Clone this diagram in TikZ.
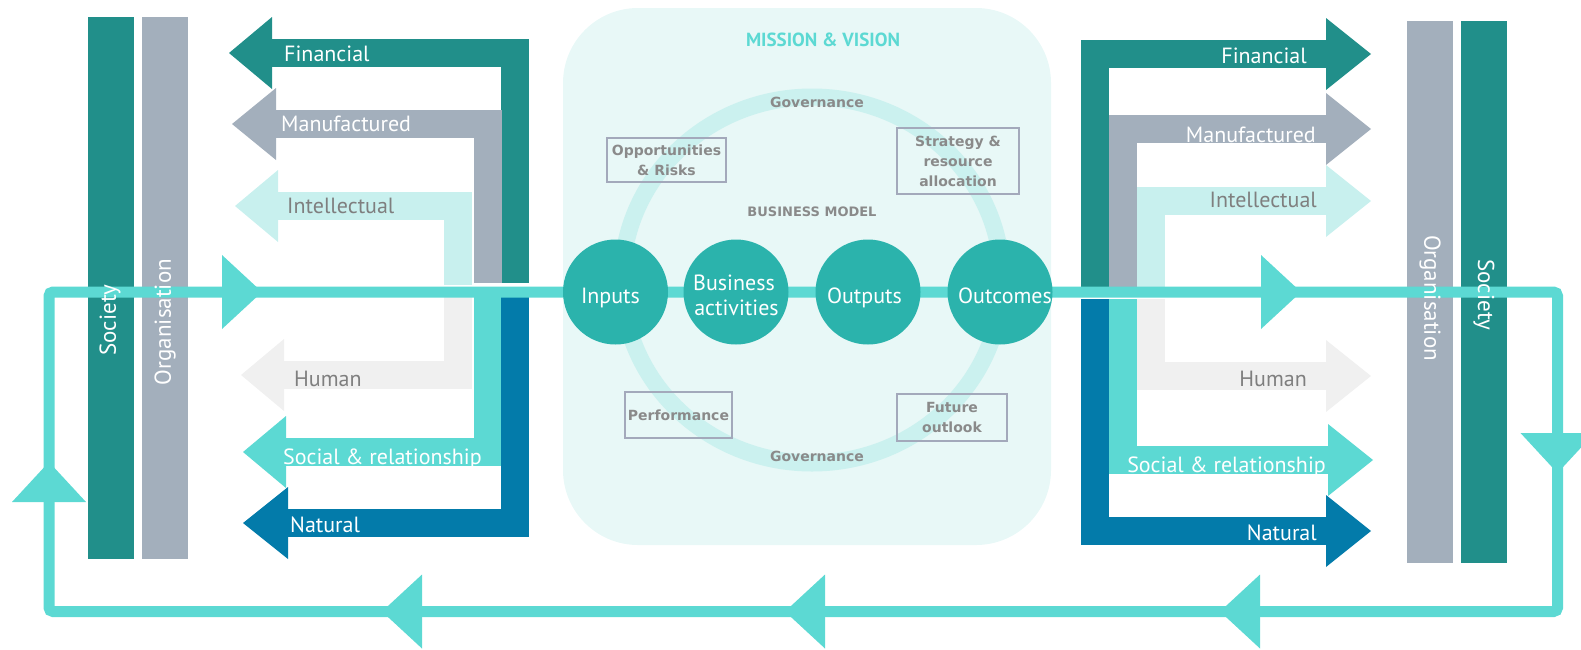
\documentclass[tikz,border=0pt]{standalone}
\usepackage{fontspec}
\setmainfont{PT Sans}
\newfontfamily\smallfont{DejaVu Sans}
\usetikzlibrary{backgrounds}
\definecolor{finc}{HTML}{218F8A}
\definecolor{manc}{HTML}{A3AFBC}
\definecolor{intc}{HTML}{C8F0EE}
\definecolor{humc}{HTML}{F0F0F0}
\definecolor{flowc}{HTML}{5CD9D3}
\definecolor{natc}{HTML}{037BAA}
\definecolor{stagec}{HTML}{2BB3AC}
\definecolor{panelc}{HTML}{E8F8F7}
\definecolor{ringc}{HTML}{CBF1EF}
\definecolor{smallgrey}{HTML}{8A8A8A}
\definecolor{labelgrey}{HTML}{7F7F7F}
\definecolor{boxc}{HTML}{A3A9BB}
\tikzstyle{base} = [inner sep=0pt, font=\fontsize{22}{24}\selectfont]
\tikzstyle{capital} = [base, text=white]
\tikzstyle{greycap} = [base, text=labelgrey]
\tikzstyle{barlabel} = [inner sep=0pt, font=\fontsize{23}{24}\selectfont]
\tikzstyle{bar} = [minimum width=46pt, minimum height=542pt, inner sep=0pt]
\tikzstyle{stage} = [circle, fill=stagec, minimum size=105pt, inner sep=0pt]
\tikzstyle{stagetext} = [base, text=white, align=center, anchor=base]
\tikzstyle{small} = [inner sep=0pt, text=smallgrey, font=\smallfont\bfseries\fontsize{14}{20}\selectfont]
\tikzstyle{element} = [small, draw=boxc, line width=1.3pt, align=center]
\tikzstyle{loopline} = [draw=flowc, line width=11pt, rounded corners=4pt]

\begin{document}
\begin{tikzpicture}[x=1pt, y=-1pt]
  \useasboundingbox (0,0) rectangle (1581,649);

  % business model stages
  \node[stage] (inputs)   at (615.5,292) {};
  \node[stage] (business) at (736,292)   {};
  \node[stage] (outputs)  at (868,292)   {};
  \node[stage] (outcomes) at (1000,292)  {};
  \node[stagetext] (inputsText)    at (610.5,303) {Inputs};
  \node[stagetext] (businessText)  at (734,290)   {Business};
  \node[stagetext] (activityText)  at (736.5,315) {activities};
  \node[stagetext] (outputsText)   at (864.5,303) {Outputs};
  \node[stagetext] (outcomesText)  at (1005,303)  {Outcomes};

  \node[small, text=flowc, font=\bfseries\fontsize{19}{20}\selectfont] (mission) at (823,40) {MISSION \& VISION};
  \node[small] (govtop) at (817,102) {Governance};
  \node[small, font=\smallfont\bfseries\fontsize{13}{20}\selectfont] (bmodel) at (812,212) {BUSINESS MODEL};
  \node[small] (govbot) at (817,456) {Governance};
  \node[element, minimum width=119pt, minimum height=44pt] (risks)  at (666.5,160) {Opportunities\\\& Risks};
  \node[element, minimum width=122pt, minimum height=66pt] (strat)  at (958,161)   {Strategy \&\\resource\\allocation};
  \node[element, minimum width=107pt, minimum height=46pt] (perf)   at (678.5,415) {Performance};
  \node[element, minimum width=110pt, minimum height=47pt] (future) at (952,417.5) {Future\\outlook};

  % capitals, left side
  \node[capital, anchor=base west] (finLlab) at (284,61)  {Financial};
  \node[capital, anchor=base west] (manLlab) at (281,131) {Manufactured};
  \node[greycap, anchor=base west] (intLlab) at (287,213) {Intellectual};
  \node[greycap, anchor=base west] (humLlab) at (294,386) {Human};
  \node[capital, anchor=base west] (socLlab) at (283,464) {Social \& relationship};
  \node[capital, anchor=base west] (natLlab) at (290,532) {Natural};

  % capitals, right side
  \node[capital, anchor=base east] (finRlab) at (1307,63)  {Financial};
  \node[capital, anchor=base east] (manRlab) at (1316,142) {Manufactured};
  \node[greycap, anchor=base east] (intRlab) at (1317,207) {Intellectual};
  \node[greycap, anchor=base east] (humRlab) at (1307,386) {Human};
  \node[capital, anchor=base east] (socRlab) at (1326,472) {Social \& relationship};
  \node[capital, anchor=base east] (natRlab) at (1317,540) {Natural};

  % society / organisation labels
  \node[barlabel, text=white, rotate=90]  (socLlab2) at (110,320)  {Society};
  \node[barlabel, text=white, rotate=90]  (orgLlab)  at (165,322)  {Organisation};
  \node[barlabel, text=white, rotate=-90] (orgRlab)  at (1430,298) {Organisation};
  \node[barlabel, text=white, rotate=-90] (socRlab2) at (1484,295) {Society};

  \begin{scope}[on background layer]
    \fill[panelc, rounded corners=75pt] (563,8) rectangle (1051,545);
    \draw[ringc, line width=17pt] (812,280) ellipse [x radius=190pt, y radius=183pt];

    \node[bar, fill=finc] (socL) at (111,288) {};
    \node[bar, fill=manc] (orgL) at (165,288) {};
    \node[bar, fill=manc] (orgR) at (1430,292) {};
    \node[bar, fill=finc] (socR) at (1484,292) {};

    % left arrows: colour / inner x / head base / tip / centre y / end y
    \foreach \col/\xi/\hb/\tx/\cy/\ye in {finc/501/272/229/53/283, manc/474/276/232/124/283, intc/444/278/235/206/285,
        humc/444/284/241/375/297, flowc/474/286/243/452/297, natc/501/288/243/523/297} {
      \fill[\col] (\xi,\ye) rectangle (\xi+28,\cy);
      \fill[\col] (\hb,\cy-14) rectangle (\xi+28,\cy+14);
      \fill[\col] (\hb,\cy-36) -- (\tx,\cy) -- (\hb,\cy+36) -- cycle;
    }
    % right arrows
    \foreach \col/\xi/\hb/\tx/\cy/\ye in {finc/1081/1326/1371/54/287, manc/1109/1326/1371/129/287, intc/1137/1326/1371/201/287,
        humc/1137/1326/1371/376/299, flowc/1109/1328/1373/460/299, natc/1081/1326/1371/531/299} {
      \fill[\col] (\xi,\ye) rectangle (\xi+28,\cy);
      \fill[\col] (\xi,\cy-14) rectangle (\hb,\cy+14);
      \fill[\col] (\hb,\cy-36) -- (\tx,\cy) -- (\hb,\cy+36) -- cycle;
    }

    % value creation loop
    \coordinate (ne) at (1557.5,292);
    \coordinate (se) at (1557.5,611.5);
    \coordinate (sw) at (49,611.5);
    \coordinate (nw) at (49,292);
    \draw[loopline] (outcomes.center) -- (ne) -- (se) -- (sw) -- (nw) -- (inputs.center)
      -- (business.center) -- (outputs.center) -- (outcomes.center);
    \foreach \x/\y/\r in {222/292/0, 1261/292/0, 1557.5/433/-90, 1260/611.5/180, 825/611.5/180, 422/611.5/180, 49/502/90}
      \fill[flowc, shift={(\x,\y)}, rotate=\r] (0,-37) -- (40,0) -- (0,37) -- cycle;
  \end{scope}
\end{tikzpicture}
\end{document}
